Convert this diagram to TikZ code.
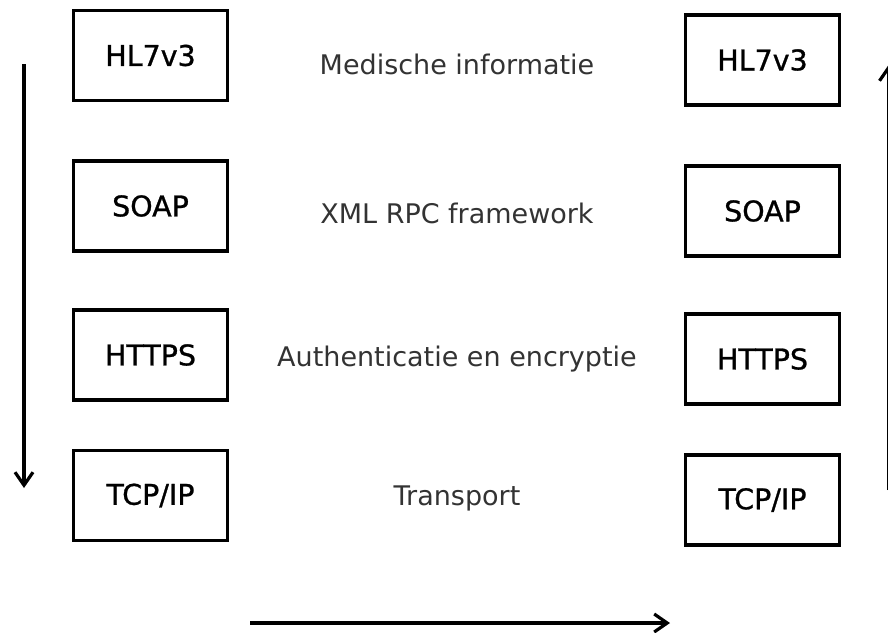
\documentclass[tikz,border=0pt]{standalone}
\usepackage{fontspec}
\setmainfont{DejaVu Sans}
\newfontfamily\boxfont[BoldFont=DejaVu Sans, BoldFeatures={FakeBold=0.9}]{DejaVu Sans}
\usetikzlibrary{arrows.meta}
\definecolor{layertext}{HTML}{333333}
\begin{document}
\begin{tikzpicture}[x=1pt,y=-1pt,
  layerbox/.style={draw=black, line width=3.4pt, minimum width=154pt, minimum height=90pt,
    inner sep=0pt, font=\boxfont\bfseries\fontsize{28.5}{32}\selectfont},
  layerlabel/.style={anchor=base, text=layertext, inner sep=0pt,
    font=\fontsize{27}{31}\selectfont},
  flow/.style={line width=3.2pt, -{Straight Barb[length=13pt,width=18pt,line width=3.2pt]}}]
\useasboundingbox (0,0) rectangle (888,632);
\clip (0,0) rectangle (888,632);

% protocol stack on the sending side
\node[layerbox] (l1) at (150.5,55.5) {HL7v3};
\node[layerbox] (l2) at (150.5,206) {SOAP};
\node[layerbox] (l3) at (150.5,355) {HTTPS};
\node[layerbox] (l4) at (150.5,495.5) {TCP/IP};

% protocol stack on the receiving side
\node[layerbox] (r1) at (762.5,60) {HL7v3};
\node[layerbox] (r2) at (762.5,211) {SOAP};
\node[layerbox] (r3) at (762.5,359) {HTTPS};
\node[layerbox] (r4) at (762.5,500) {TCP/IP};

% what each layer provides
\node[layerlabel] (t1) at (457,74) {Medische informatie};
\node[layerlabel] (t2) at (457,223) {XML RPC framework};
\node[layerlabel] (t3) at (457,366) {Authenticatie en encryptie};
\node[layerlabel] (t4) at (457,505) {Transport};

% direction of travel (the upward arrow runs along the right edge)
\coordinate (downA) at (24,64);
\coordinate (downB) at (24,488);
\coordinate (acrossA) at (250,623);
\coordinate (acrossB) at (670,623);
\coordinate (upA) at (888.5,490);
\coordinate (upB) at (888.5,65);
\draw[flow] (downA) -- (downB);
\draw[flow] (acrossA) -- (acrossB);
\draw[flow] (upA) -- (upB);
\end{tikzpicture}
\end{document}
